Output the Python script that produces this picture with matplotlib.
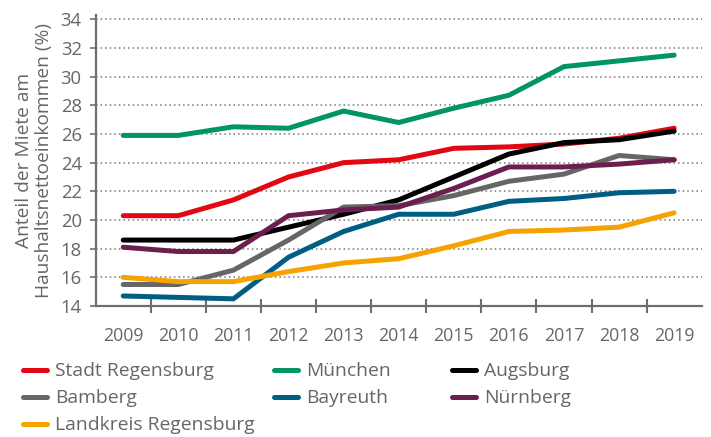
import matplotlib
matplotlib.use("Agg")
import matplotlib.pyplot as plt
from matplotlib.ticker import FixedLocator, NullFormatter

plt.rcParams['font.family'] = ['Open Sans', 'DejaVu Sans']

years = ["2009", "2010", "2011", "2012", "2013", "2014", "2015", "2016", "2017", "2018", "2019"]

stadt_regensburg = [20.3, 20.3, 21.4, 23.0, 24.0, 24.2, 25.0, 25.1, 25.3, 25.7, 26.4]
muenchen = [25.9, 25.9, 26.5, 26.4, 27.6, 26.8, 27.8, 28.7, 30.7, 31.1, 31.5]
augsburg = [18.6, 18.6, 18.6, 19.5, 20.4, 21.4, 23.0, 24.6, 25.4, 25.6, 26.2]
bamberg = [15.5, 15.5, 16.5, 18.6, 20.9, 21.0, 21.7, 22.7, 23.2, 24.5, 24.2]
bayreuth = [14.7, 14.6, 14.5, 17.4, 19.2, 20.4, 20.4, 21.3, 21.5, 21.9, 22.0]
nuernberg = [18.1, 17.8, 17.8, 20.3, 20.7, 20.9, 22.2, 23.7, 23.7, 23.9, 24.2]
landkreis_regensburg = [16.0, 15.7, 15.7, 16.4, 17.0, 17.3, 18.2, 19.2, 19.3, 19.5, 20.5]

series_names = ["Stadt Regensburg", "München", "Augsburg", "Bamberg", "Bayreuth",
                "Nürnberg", "Landkreis Regensburg"]
series_values = [stadt_regensburg, muenchen, augsburg, bamberg, bayreuth,
                 nuernberg, landkreis_regensburg]
colors = ["#E30613", "#00965E", "#000000", "#666666", "#005E83", "#6B1F4F", "#F5A300"]

y_ticks = [14, 16, 18, 20, 22, 24, 26, 28, 30, 32, 34]
y_label = "Anteil der Miete am\nHaushaltsnettoeinkommen (%)"

text_color = "#666666"
axis_color = "#6e6e6e"

W, H = 711, 437
fig = plt.figure(figsize=(W / 100, H / 100), dpi=100)
left, right, bottom, top = 95.7, 701.7, 306, 15
ax = fig.add_axes([left / W, 1 - bottom / H, (right - left) / W, (bottom - top) / H])

x = list(range(len(years)))
lines = {}
for name, vals, c in zip(series_names, series_values, colors):
    ln, = ax.plot(x, vals, color=c, lw=3.6, solid_capstyle='round',
                  solid_joinstyle='round', label=name, zorder=3)
    lines[name] = ln

ax.set_xlim(-0.5, len(years) - 0.5)
ax.set_ylim(14, 34.3)

ax.set_xticks(x)
ax.set_xticklabels(years)
ax.xaxis.set_minor_locator(FixedLocator([i + 0.5 for i in range(len(years) - 1)]))
ax.xaxis.set_minor_formatter(NullFormatter())
ax.tick_params(axis='x', which='major', length=0, pad=15, labelsize=12.8, labelcolor=text_color)
ax.tick_params(axis='x', which='minor', direction='inout', length=10, width=1.5, color=axis_color)

ax.set_yticks(y_ticks)
ax.tick_params(axis='y', which='major', direction='out', length=4, width=1.2, color=axis_color,
               pad=6, labelsize=13.3, labelcolor=text_color)

for s in ['top', 'right']:
    ax.spines[s].set_visible(False)
for s in ['left', 'bottom']:
    ax.spines[s].set_color(axis_color)
    ax.spines[s].set_linewidth(1.6)

ax.yaxis.grid(True, linestyle=(0, (1, 2)), color="#777777", linewidth=1.1, zorder=0)
ax.set_axisbelow(True)

ax.set_ylabel(y_label, fontsize=13.8, color=text_color, va='center', ha='center',
              multialignment='center', linespacing=1.1)
ax.yaxis.set_label_coords((34 - left) / (right - left), 0.5)

columns = [["Stadt Regensburg", "Bamberg", "Landkreis Regensburg"],
           ["München", "Bayreuth"],
           ["Augsburg", "Nürnberg"]]
col_x = [22.7, 274, 451.7]
for cx, names in zip(col_x, columns):
    leg = fig.legend([lines[n] for n in names], names, loc='upper left',
                     bbox_to_anchor=(cx / W, 1 - 362.5 / H), frameon=False,
                     fontsize=13.9, handlelength=1.25, handletextpad=0.43,
                     labelspacing=0.46, borderpad=0, borderaxespad=0,
                     labelcolor=text_color)

fig.savefig("out.png", dpi=100)
